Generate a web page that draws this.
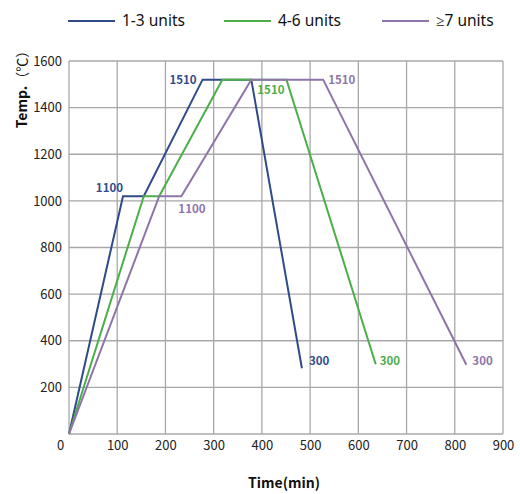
<!DOCTYPE html>
<html>
<head>
<meta charset="utf-8">
<script src="https://cdn.jsdelivr.net/npm/d3@7"></script>
<style>
  body { margin: 0; background: #fff; }
  svg { display: block; font-family: "Noto Sans CJK SC", "Noto Sans", sans-serif; }
</style>
</head>
<body>
<div id="chart-area"></div>
<script>
// series: [time (min), temperature] as drawn
const seriesNames = ["1-3 units", "4-6 units", "≥7 units"];
const seriesColors = ["#2f4b8a", "#4cae49", "#8e74a8"];
const blueTimes = [0, 112, 155, 277, 378, 483];
const blueTemps = [0, 1020, 1020, 1520, 1520, 282];
const greenTimes = [0, 155, 187, 318, 451, 636];
const greenTemps = [0, 1020, 1020, 1520, 1520, 299];
const purpleTimes = [0, 187, 233, 378, 527, 824];
const purpleTemps = [0, 1020, 1020, 1520, 1520, 297];
const xTicks = [0, 100, 200, 300, 400, 500, 600, 700, 800, 900];
const yTicks = [0, 200, 400, 600, 800, 1000, 1200, 1400, 1600];
// annotation text and the point index it sits beside
const labelTexts = ["1100", "1510", "300"];
const labelPoints = [1, 3, 5];

const width = 520;
const height = 494;
const margin = { top: 61, right: 17, bottom: 60, left: 69 };

const x = d3
  .scaleLinear()
  .domain([0, 900])
  .range([margin.left, width - margin.right]);
const y = d3
  .scaleLinear()
  .domain([0, 1600])
  .range([height - margin.bottom, margin.top]);

const svg = d3
  .select("#chart-area")
  .append("svg")
  .attr("width", width)
  .attr("height", height);

const grid = svg.append("g").attr("stroke", "#a8a8a8").attr("stroke-width", 1.3);
grid
  .selectAll("line.v")
  .data(xTicks)
  .join("line")
  .attr("class", "v")
  .attr("x1", (d) => x(d))
  .attr("x2", (d) => x(d))
  .attr("y1", y(0))
  .attr("y2", y(1600));
grid
  .selectAll("line.h")
  .data(yTicks)
  .join("line")
  .attr("class", "h")
  .attr("x1", x(0))
  .attr("x2", x(900))
  .attr("y1", (d) => y(d))
  .attr("y2", (d) => y(d));

// tick labels
const xAxis = svg
  .append("g")
  .attr("transform", `translate(0, ${y(0)})`)
  .call(
    d3
      .axisBottom(x)
      .tickValues(xTicks)
      .tickFormat(d3.format("d"))
      .tickSize(0)
      .tickPadding(7)
  );
xAxis.select(".domain").remove();
xAxis
  .selectAll("text")
  .attr("font-size", 13)
  .attr("fill", "#222")
  .attr("font-family", "Noto Sans CJK SC")
  .attr("dx", (d) => (d === 0 ? -9 : 0));

const yAxis = svg
  .append("g")
  .attr("transform", `translate(${x(0)}, 0)`)
  .call(
    d3
      .axisLeft(y)
      .tickValues(yTicks.filter((d) => d > 0))
      .tickFormat(d3.format("d"))
      .tickSize(0)
      .tickPadding(7)
  );
yAxis.select(".domain").remove();
yAxis
  .selectAll("text")
  .attr("font-size", 13)
  .attr("fill", "#222")
  .attr("font-family", "Noto Sans CJK SC");

// axis titles
svg
  .append("text")
  .attr("x", 284)
  .attr("y", 488)
  .attr("text-anchor", "middle")
  .attr("font-size", 14)
  .attr("font-weight", "bold")
  .attr("fill", "#111")
  .text("Time(min)");

const yTitle = svg
  .append("text")
  .attr("transform", "translate(27, 86) rotate(-90)")
  .attr("text-anchor", "middle")
  .attr("font-size", 14)
  .attr("fill", "#111");
yTitle.append("tspan").attr("font-weight", "bold").text("Temp.");
yTitle.append("tspan").text("（℃）");

// lines
const series = [
  { name: seriesNames[0], times: blueTimes, temps: blueTemps },
  { name: seriesNames[1], times: greenTimes, temps: greenTemps },
  { name: seriesNames[2], times: purpleTimes, temps: purpleTemps },
];
const line = d3
  .line()
  .x((d) => x(d[0]))
  .y((d) => y(d[1]));

svg
  .append("g")
  .selectAll("path")
  .data(series)
  .join("path")
  .attr("fill", "none")
  .attr("stroke", (d, i) => seriesColors[i])
  .attr("stroke-width", 2)
  .attr("stroke-linejoin", "miter")
  .attr("d", (d) => line(d.times.map((t, j) => [t, d.temps[j]])));

// label offsets per series: [anchor, dx, dy] for each label
const labelStyle = [
  [["end", 0, -8], ["end", -6, 0], ["start", 7, -7]],
  [null, ["end", -2, 10], ["start", 4, -3]],
  [["start", -3, 13], ["start", 5, 0], ["start", 6, -4]],
];
series.forEach((s, i) => {
  labelTexts.forEach((txt, k) => {
    const st = labelStyle[i][k];
    if (!st) return;
    let p = labelPoints[k];
    if (i === 1 && k === 1) p = 4;
    if (i === 2 && k === 0) p = 2;
    if (i === 2 && k === 1) p = 4;
    svg
      .append("text")
      .attr("x", x(s.times[p]) + st[1])
      .attr("y", y(s.temps[p]) + st[2])
      .attr("dy", "0.35em")
      .attr("text-anchor", st[0])
      .attr("font-size", 11.5)
      .attr("font-weight", "bold")
      .attr("fill", seriesColors[i])
      .text(txt);
  });
});

// legend
const legendX = [68, 224, 382];
const legend = svg
  .append("g")
  .selectAll("g")
  .data(seriesNames)
  .join("g")
  .attr("transform", (d, i) => `translate(${legendX[i]}, 21)`);
legend
  .append("line")
  .attr("x1", 0)
  .attr("x2", 47)
  .attr("stroke", (d, i) => seriesColors[i])
  .attr("stroke-width", 2);
legend
  .append("text")
  .attr("x", 54)
  .attr("dy", "0.35em")
  .attr("font-size", 15.5)
  .attr("font-family", "Noto Sans")
  .attr("fill", "#111")
  .text((d) => d);
</script>
</body>
</html>
